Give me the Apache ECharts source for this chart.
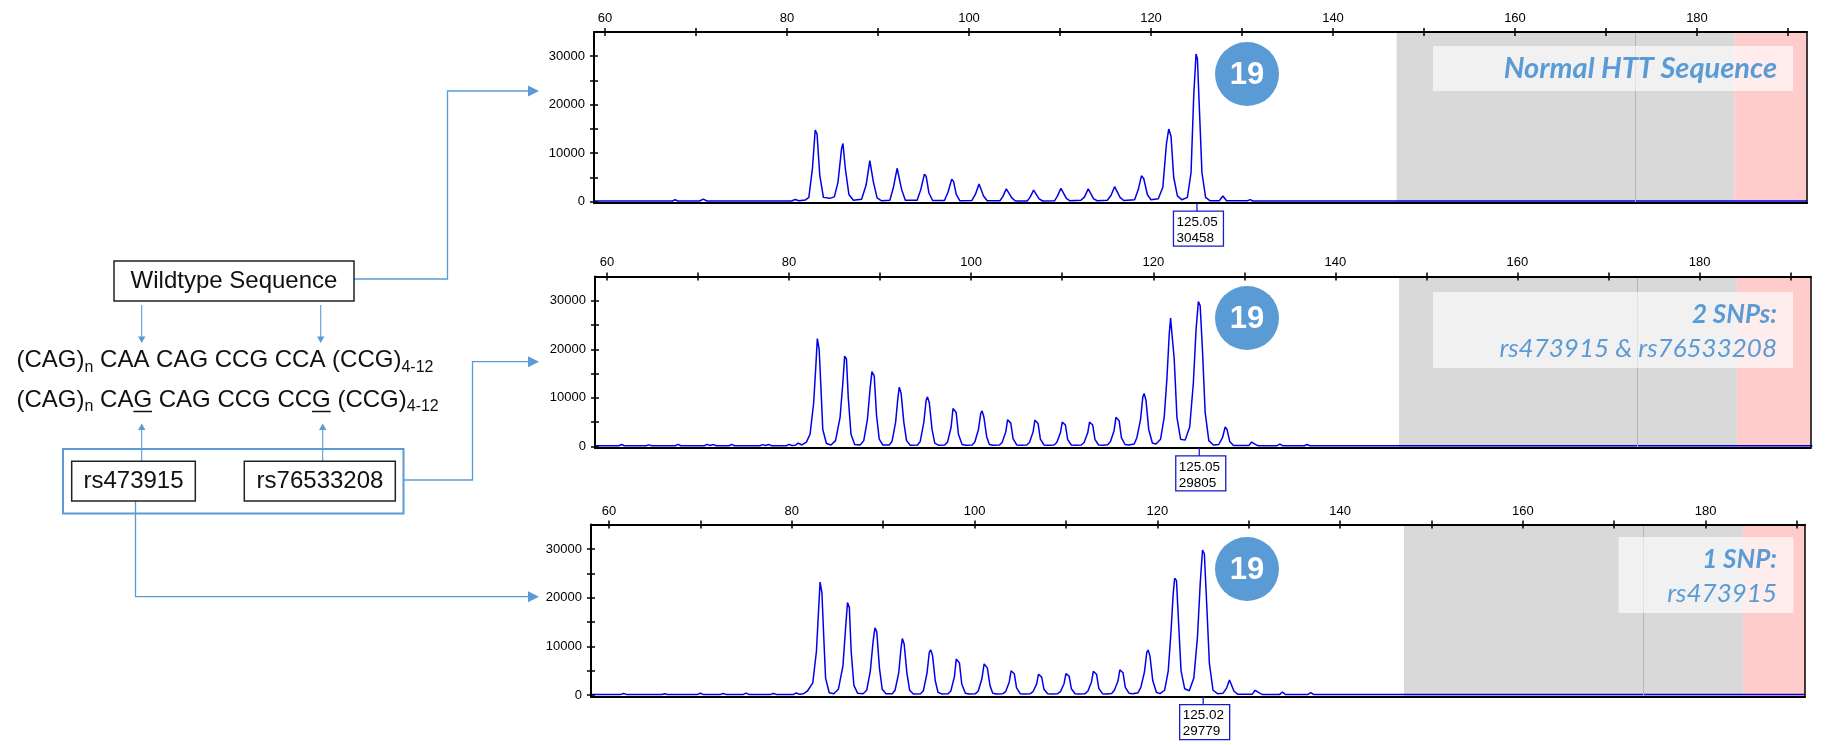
<!DOCTYPE html>
<html>
<head>
<meta charset="utf-8">
<script src="https://cdn.jsdelivr.net/npm/echarts@6/dist/echarts.min.js"></script>
<style>
html, body { margin: 0; padding: 0; background: #fff; }
#main { width: 1826px; height: 745px; }
</style>
</head>
<body>
<div id="main"></div>
<script>
// fragment size axis (bp) and signal axis (RFU)
var sizeLabels = [60, 80, 100, 120, 140, 160, 180];
var sizeTicks = [60, 70, 80, 90, 100, 110, 120, 130, 140, 150, 160, 170, 180, 190];
var rfuLabels = [0, 10000, 20000, 30000];
var rfuTicks = [0, 5000, 10000, 15000, 20000, 25000, 30000];

// bins drawn behind the traces
var binGray = [147, 184.1];
var binLine = 173.2;
var binRed = 184.1;

// traces: [size, rfu]
var traceNormal = [
  [58.8,150],[67.4,150],[67.7,400],[68.0,150],[70.4,150],[70.8,550],[71.2,150],[80.5,150],[80.9,450],[81.3,200],[82.0,350],[82.4,900],
  [82.8,7000],[83.1,14800],[83.3,14000],[83.6,5500],[84.0,900],[84.7,700],[85.2,1000],
  [85.6,4000],[86.0,11000],[86.15,12000],[86.4,7000],[86.8,1500],[87.3,300],[88.2,500],
  [88.7,3500],[89.1,8500],[89.25,8800],[89.5,4000],[89.9,800],[90.4,200],[91.3,300],
  [91.7,3000],[92.1,6900],[92.3,6500],[92.6,2500],[93.0,300],[94.3,300],
  [94.7,2500],[95.1,5700],[95.3,5200],[95.6,1800],[96.0,250],[97.3,250],
  [97.7,2000],[98.1,4650],[98.3,4200],[98.6,1500],[99.0,200],[100.3,250],
  [100.7,1500],[101.1,3650],[101.3,3300],[101.6,1200],[102.0,200],[103.4,200],
  [103.7,1000],[104.1,2650],[104.3,2400],[104.7,800],[105.1,150],[106.4,150],
  [106.7,900],[107.1,2400],[107.3,2100],[107.7,600],[108.1,150],[109.4,200],
  [109.7,1100],[110.1,2750],[110.3,2500],[110.7,700],[111.1,200],[112.3,300],
  [112.7,1000],[113.1,2650],[113.3,2300],[113.7,600],[114.1,200],[115.2,300],
  [115.6,1300],[116.0,3100],[116.2,2800],[116.6,900],[117.0,250],[118.2,400],
  [118.6,2500],[118.95,5350],[119.2,4800],[119.6,1500],[120.0,400],[120.8,600],[121.3,3000],
  [121.7,12000],[121.95,15000],[122.2,13500],[122.5,5000],[122.9,1200],[123.4,400],[124.0,900],[124.4,6000],
  [124.7,22000],[124.95,30458],[125.1,29500],[125.3,20000],[125.6,6000],[126.0,900],[126.5,200],[127.5,200],
  [127.9,1200],[128.3,200],[130.6,200],[130.9,450],[131.2,150],[192.1,150]
];
var traceTwoSnp = [
  [58.7,150],[61.3,150],[61.6,400],[61.9,150],[64.3,150],[64.6,320],[64.9,150],[67.5,150],[67.8,420],[68.1,150],
  [70.7,150],[71.0,420],[71.3,200],[71.7,380],[72.0,150],[73.4,150],[73.7,420],[74.0,150],[76.8,150],[77.1,380],
  [77.4,200],[77.8,380],[78.1,150],[79.7,150],[80.0,420],[80.3,200],[80.7,250],[81.0,700],[81.4,300],[81.9,900],[82.3,2500],
  [82.7,9000],[82.95,17000],[83.1,22200],[83.3,20000],[83.5,12000],[83.7,3500],[84.1,600],[84.6,300],[85.1,1200],
  [85.6,6000],[85.9,13000],[86.1,18600],[86.3,18000],[86.5,10000],[86.8,2500],[87.2,400],[87.8,300],[88.2,1200],
  [88.6,5500],[88.9,12000],[89.1,15400],[89.35,14500],[89.6,6500],[89.9,1500],[90.3,300],[91.0,300],[91.3,1000],
  [91.7,5000],[91.95,10000],[92.1,12200],[92.3,11000],[92.6,5000],[92.9,1200],[93.3,250],[94.1,300],[94.4,1000],
  [94.8,5000],[95.05,9500],[95.2,10200],[95.4,9000],[95.7,3500],[96.0,700],[96.4,250],[97.1,300],[97.4,900],
  [97.8,4000],[98.0,7800],[98.15,8200],[98.35,7000],[98.6,2500],[99.0,400],[99.4,250],[100.1,300],[100.4,900],
  [100.8,3500],[101.05,6800],[101.2,7300],[101.4,6000],[101.7,2000],[102.0,400],[102.4,250],[103.1,300],[103.4,800],
  [103.8,3000],[104.0,5500],[104.15,5800],[104.35,4800],[104.6,1600],[105.0,300],[105.4,250],[106.1,300],[106.4,800],
  [106.8,3000],[107.0,5400],[107.15,5700],[107.35,4700],[107.6,1500],[108.0,300],[108.4,250],[109.1,300],[109.4,800],
  [109.8,2800],[110.0,5000],[110.15,5300],[110.35,4400],[110.6,1400],[111.0,300],[111.4,250],[112.1,300],[112.4,800],
  [112.8,2800],[113.0,5000],[113.15,5300],[113.35,4400],[113.6,1400],[114.0,300],[114.4,250],[115.0,350],[115.3,1000],
  [115.7,3300],[115.9,6000],[116.05,6300],[116.25,5300],[116.5,1800],[116.9,400],[117.3,300],[117.9,500],[118.2,1800],
  [118.6,5500],[118.85,10200],[119.0,10900],[119.2,9500],[119.5,3500],[119.9,700],[120.3,500],[120.8,1500],[121.2,6000],
  [121.5,14000],[121.75,23000],[121.9,26400],[122.1,26000],[122.3,18000],[122.6,6000],[123.0,1500],[123.5,1300],[124.0,4000],
  [124.4,13000],[124.7,24000],[124.95,29805],[125.15,29000],[125.4,20000],[125.7,7000],[126.1,1200],[126.6,300],[127.2,400],
  [127.6,1800],[127.9,4000],[128.1,3500],[128.4,1000],[128.8,200],[130.5,200],[130.8,900],[131.0,1200],[131.3,300],
  [131.6,150],[133.6,150],[133.9,500],[134.2,150],[136.6,150],[136.9,400],[137.2,150],[192.4,150]
];
var traceOneSnp = [
  [58.0,150],[61.3,150],[61.6,350],[61.9,150],[65.8,150],[66.1,300],[66.4,150],[69.7,150],[70.0,380],[70.3,150],
  [72.2,150],[72.5,330],[72.8,150],[74.7,150],[75.0,400],[75.3,150],[77.7,150],[78.0,350],[78.3,150],[80.2,150],
  [80.5,450],[80.8,200],[81.3,300],[81.7,800],[82.3,2500],
  [82.7,9000],[82.95,18000],[83.1,23200],[83.3,21000],[83.5,12000],[83.7,3500],[84.1,500],[84.6,300],[85.1,1200],
  [85.6,6000],[85.9,14000],[86.1,19000],[86.3,18000],[86.5,9000],[86.8,2000],[87.2,400],[87.8,300],[88.2,1000],
  [88.6,5000],[88.9,11000],[89.1,13800],[89.3,13000],[89.6,5500],[89.9,1200],[90.3,300],[91.0,300],[91.3,1000],
  [91.7,4500],[91.95,9500],[92.1,11600],[92.3,10500],[92.6,4500],[92.9,1000],[93.3,250],[94.1,300],[94.4,900],
  [94.8,4500],[95.05,8800],[95.2,9300],[95.4,8200],[95.7,3000],[96.0,600],[96.4,250],[97.1,300],[97.4,800],
  [97.8,3800],[98.0,7400],[98.15,7800],[98.35,6600],[98.6,2300],[99.0,400],[99.4,250],[100.1,300],[100.4,800],
  [100.8,3300],[101.05,6400],[101.2,6800],[101.4,5600],[101.7,1900],[102.0,400],[102.4,250],[103.1,300],[103.4,700],
  [103.8,2700],[104.0,5000],[104.15,5300],[104.35,4400],[104.6,1500],[105.0,300],[105.4,250],[106.1,300],[106.4,700],
  [106.8,2300],[107.0,4300],[107.15,4500],[107.35,3700],[107.6,1200],[108.0,300],[108.4,250],[109.1,300],[109.4,700],
  [109.8,2400],[110.0,4400],[110.15,4700],[110.35,3900],[110.6,1300],[111.0,300],[111.4,250],[112.1,300],[112.4,800],
  [112.8,2700],[113.0,4900],[113.15,5200],[113.35,4300],[113.6,1400],[114.0,300],[114.4,250],[115.0,350],[115.3,1000],
  [115.7,2900],[115.9,5200],[116.05,5500],[116.25,4600],[116.5,1600],[116.9,400],[117.3,300],[117.9,500],[118.2,1600],
  [118.6,4800],[118.85,8800],[119.0,9250],[119.2,8000],[119.5,3000],[119.9,600],[120.3,300],[120.8,1000],[121.2,5000],
  [121.5,13000],[121.75,21000],[121.9,24000],[122.1,23500],[122.3,16000],[122.6,5000],[123.0,1300],[123.5,900],[124.0,3500],
  [124.4,12000],[124.7,23000],[124.95,29779],[125.15,29000],[125.4,19000],[125.7,6500],[126.1,1000],[126.6,300],[127.2,400],
  [127.6,1500],[127.9,3100],[128.1,2700],[128.4,800],[128.8,200],[130.4,200],[130.7,1000],[130.9,1300],[131.2,400],
  [131.5,150],[133.4,150],[133.7,650],[134.0,150],[136.5,150],[136.8,500],[137.1,150],[190.9,150]
];

// called peak under each panel: [size, height]
var peakCalls = [[125.05, 30458], [125.05, 29805], [125.02, 29779]];
var peakCount = ['19', '19', '19'];
var panelNotes = [
  ['Normal HTT Sequence'],
  ['2 SNPs:', 'rs473915 & rs76533208'],
  ['1 SNP:', 'rs473915']
];

var traces = [traceNormal, traceTwoSnp, traceOneSnp];

// panel frames (pixels) and visible axis windows
var panels = [
  { left: 594, top: 32,    width: 1213,   height: 171.2, xMin: 58.79, xMax: 192.09 },
  { left: 595, top: 276.4, width: 1215.6, height: 171.5, xMin: 58.68, xMax: 192.2 },
  { left: 591, top: 524.6, width: 1214,   height: 172,   xMin: 58.03, xMax: 190.88 }
];
var yMin = -300, yMax = 35000;

var blue = '#5b9bd5';
var axisFont = 'Liberation Sans, Arial, sans-serif';

var chart = echarts.init(document.getElementById('main'));

var grids = [], xAxes = [], yAxes = [], series = [];
panels.forEach(function (p, i) {
  grids.push({ left: p.left, top: p.top, width: p.width, height: p.height, show: false });
  var xBase = { gridIndex: i, type: 'value', min: p.xMin, max: p.xMax, z: 10, splitLine: { show: false } };
  var yBase = { gridIndex: i, type: 'value', min: yMin, max: yMax, z: 10, splitLine: { show: false } };
  xAxes.push(Object.assign({}, xBase, {
    position: 'top',
    axisLine: { onZero: false, lineStyle: { color: '#000', width: 2 } },
    axisTick: { customValues: sizeTicks, length: 4, lineStyle: { color: '#000', width: 1.5 } },
    axisLabel: { customValues: sizeLabels, margin: 7, fontSize: 13, color: '#000', fontFamily: axisFont,
      formatter: function (v) { return String(v); } }
  }));
  xAxes.push(Object.assign({}, xBase, {
    position: 'top',
    axisLine: { show: false, onZero: false },
    axisTick: { customValues: sizeTicks, inside: true, length: 4, lineStyle: { color: '#000', width: 1.5 } },
    axisLabel: { show: false }
  }));
  xAxes.push(Object.assign({}, xBase, {
    position: 'bottom',
    axisLine: { onZero: false, lineStyle: { color: '#000', width: 2 } },
    axisTick: { show: false }, axisLabel: { show: false }
  }));
  yAxes.push(Object.assign({}, yBase, {
    position: 'left',
    axisLine: { onZero: false, lineStyle: { color: '#000', width: 2 } },
    axisTick: { customValues: rfuTicks, length: 4, lineStyle: { color: '#000', width: 1.5 } },
    axisLabel: { customValues: rfuLabels, margin: 9, fontSize: 13, color: '#000', fontFamily: axisFont,
      formatter: function (v) { return String(v); } }
  }));
  yAxes.push(Object.assign({}, yBase, {
    position: 'left',
    axisLine: { show: false, onZero: false },
    axisTick: { customValues: rfuTicks, inside: true, length: 4, lineStyle: { color: '#000', width: 1.5 } },
    axisLabel: { show: false }
  }));
  yAxes.push(Object.assign({}, yBase, {
    position: 'right',
    axisLine: { onZero: false, lineStyle: { color: '#000', width: 1.5 } },
    axisTick: { show: false }, axisLabel: { show: false }
  }));

  // bins
  series.push({
    type: 'line', xAxisIndex: 3 * i, yAxisIndex: 3 * i, data: [], z: 1, silent: true,
    markArea: {
      silent: true,
      data: [
        [{ xAxis: binGray[0], itemStyle: { color: '#d9d9d9', opacity: 1 } }, { xAxis: binGray[1] }],
        [{ xAxis: binRed, itemStyle: { color: '#ffcccc', opacity: 1 } }, { xAxis: p.xMax }]
      ]
    },
    markLine: {
      silent: true, symbol: 'none', label: { show: false },
      lineStyle: { color: '#b4b4b4', width: 1, type: 'solid' },
      data: [{ xAxis: binLine }]
    }
  });
  // trace
  series.push({
    type: 'line', xAxisIndex: 3 * i, yAxisIndex: 3 * i, data: traces[i], z: 3,
    showSymbol: false, smooth: false, clip: true, silent: true,
    lineStyle: { color: '#0000ee', width: 1.5 }
  });
});

chart.setOption({
  animation: false,
  grid: grids,
  xAxis: xAxes,
  yAxis: yAxes,
  series: series
});

// ---------- overlay graphics ----------
var g = [];

function arrowRight(x, y) {
  g.push({ type: 'polygon', shape: { points: [[x - 11, y - 5.5], [x, y], [x - 11, y + 5.5]] }, style: { fill: blue }, z: 20 });
}
function arrowSmall(x, y, dir) {
  var b = y - 6.5 * dir;
  g.push({ type: 'polygon', shape: { points: [[x - 3.7, b], [x + 3.7, b], [x, y]] }, style: { fill: blue }, z: 20 });
}
function poly(pts, w) {
  g.push({ type: 'polyline', shape: { points: pts }, style: { stroke: blue, lineWidth: w || 1.3, fill: null }, z: 19 });
}
function box(x, y, w, h, stroke, lw) {
  g.push({ type: 'rect', shape: { x: x, y: y, width: w, height: h }, style: { fill: 'rgba(0,0,0,0)', stroke: stroke, lineWidth: lw }, z: 21 });
}
function label(txt, x, y, size) {
  g.push({ type: 'text', x: x, y: y, style: { text: txt, fontSize: size, fontFamily: axisFont, fill: '#111', align: 'center', verticalAlign: 'middle' }, z: 22 });
}

// connectors to the panels
poly([[354, 279], [447.5, 279], [447.5, 91], [528, 91]]);
arrowRight(539, 91);
poly([[403.5, 480], [472.5, 480], [472.5, 361.7], [528, 361.7]]);
arrowRight(539, 361.7);
poly([[135.5, 501], [135.5, 596.7], [528, 596.7]]);
arrowRight(539, 596.7);

// small arrows around the sequence
poly([[141.7, 305], [141.7, 337]], 1.1); arrowSmall(141.7, 343, 1);
poly([[320.7, 305], [320.7, 337]], 1.1); arrowSmall(320.7, 343, 1);
poly([[141.7, 461], [141.7, 430]], 1.1); arrowSmall(141.7, 423.5, -1);
poly([[322.7, 461], [322.7, 430]], 1.1); arrowSmall(322.7, 423.5, -1);

// boxes
box(114, 261, 240, 40, '#222', 1.5);
label('Wildtype Sequence', 234, 281, 24);
box(63, 449, 340.5, 64.5, blue, 2);
box(71.7, 461.3, 123.6, 39.7, '#222', 1.5);
label('rs473915', 133.5, 481.5, 24);
box(244.3, 461.3, 151, 39.7, '#222', 1.5);
label('rs76533208', 320, 481.5, 24);

// sequence lines with subscripts
var seqRich = {
  m: { fontSize: 24, fontFamily: axisFont, fill: '#111', lineHeight: 30 },
  s: { fontSize: 16, fontFamily: axisFont, fill: '#111', lineHeight: 16, verticalAlign: 'bottom' }
};
g.push({ type: 'text', x: 16.5, y: 360.7, z: 22, style: {
  text: '{m|(CAG)}{s|n}{m| CAA CAG CCG CCA (CCG)}{s|4-12}', rich: seqRich, align: 'left', verticalAlign: 'middle' } });
g.push({ type: 'text', x: 16.5, y: 400, z: 22, style: {
  text: '{m|(CAG)}{s|n}{m| CAG CAG CCG CCG (CCG)}{s|4-12}', rich: seqRich, align: 'left', verticalAlign: 'middle' } });

// underline the two SNP bases, measured from the actual font
var ctx = document.createElement('canvas').getContext('2d');
function tw(t, size) { ctx.font = size + 'px ' + axisFont; return ctx.measureText(t).width; }
var x0 = 16.5 + tw('(CAG)', 24) + tw('n', 16);
var u1 = x0 + tw(' CA', 24);
var u1w = tw('G', 24);
var u2 = u1 + u1w + tw(' CAG CCG CC', 24);
[[u1, u1w], [u2, u1w]].forEach(function (u) {
  g.push({ type: 'line', shape: { x1: u[0], y1: 411.5, x2: u[0] + u[1], y2: 411.5 }, style: { stroke: '#111', lineWidth: 1.5 }, z: 22 });
});

// per-panel annotations
var circleY = [74, 318, 569];
var notes = [
  { x: 1433, y: 46, w: 360, h: 45 },
  { x: 1433, y: 292, w: 360, h: 76 },
  { x: 1618.5, y: 537, w: 175, h: 76 }
];
var noteFont = 'Lato, "Open Sans", sans-serif';
panels.forEach(function (p, i) {
  g.push({ type: 'circle', shape: { cx: 1247, cy: circleY[i], r: 32 }, style: { fill: blue }, z: 20 });
  g.push({ type: 'text', x: 1247, y: circleY[i] + 1, z: 21, style: {
    text: peakCount[i], fontSize: 31, fontWeight: 'bold', fontFamily: axisFont, fill: '#fff', align: 'center', verticalAlign: 'middle' } });

  var n = notes[i];
  g.push({ type: 'rect', shape: { x: n.x, y: n.y, width: n.w, height: n.h }, style: { fill: 'rgba(255,255,255,0.62)' }, z: 20 });
  var lines = panelNotes[i];
  if (lines.length === 1) {
    g.push({ type: 'text', x: 1777, y: n.y + n.h / 2, z: 21, style: {
      text: lines[0], fontSize: 29, fontStyle: 'italic', fontWeight: 'bold', fontFamily: noteFont, fill: blue, align: 'right', verticalAlign: 'middle' } });
  } else {
    g.push({ type: 'text', x: 1777, y: n.y + 23, z: 21, style: {
      text: lines[0], fontSize: 26, fontStyle: 'italic', fontWeight: 'bold', fontFamily: noteFont, fill: blue, align: 'right', verticalAlign: 'middle' } });
    g.push({ type: 'text', x: 1777, y: n.y + 56.5, z: 21, style: {
      text: lines[1], fontSize: 26, fontStyle: 'italic', fontFamily: noteFont, fill: blue, align: 'right', verticalAlign: 'middle' } });
  }

  // called-peak box below the axis
  var pk = peakCalls[i];
  var px = chart.convertToPixel({ seriesIndex: 2 * i + 1 }, [pk[0], 0])[0];
  var yb = p.top + p.height;
  g.push({ type: 'line', shape: { x1: px, y1: yb, x2: px, y2: yb + 8 }, style: { stroke: '#1a1acc', lineWidth: 1.3 }, z: 20 });
  g.push({ type: 'rect', shape: { x: px - 23.5, y: yb + 8, width: 50, height: 35 }, style: { fill: '#fff', stroke: '#1a1acc', lineWidth: 1.3 }, z: 20 });
  g.push({ type: 'text', x: px - 20.5, y: yb + 19, z: 21, style: {
    text: pk[0].toFixed(2), fontSize: 13.5, fontFamily: axisFont, fill: '#000', align: 'left', verticalAlign: 'middle' } });
  g.push({ type: 'text', x: px - 20.5, y: yb + 35, z: 21, style: {
    text: String(pk[1]), fontSize: 13.5, fontFamily: axisFont, fill: '#000', align: 'left', verticalAlign: 'middle' } });
});

chart.setOption({ graphic: g });
</script>
</body>
</html>
